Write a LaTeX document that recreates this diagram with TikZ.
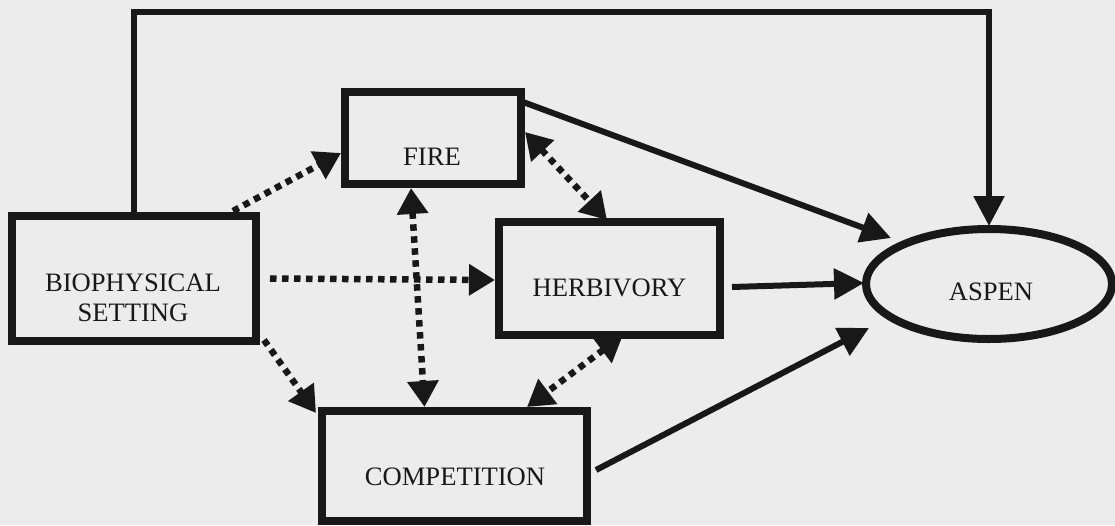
\documentclass[tikz,border=0pt]{standalone}
\usepackage{fontspec}
\setmainfont{Liberation Serif}
\usetikzlibrary{arrows.meta,shapes.geometric,calc}
\definecolor{paper}{RGB}{236,236,236}
\definecolor{ink}{RGB}{24,24,24}
\begin{document}
\begin{tikzpicture}[x=1pt,y=-1pt,
  boxnode/.style={draw=ink,line width=8pt,inner sep=0pt,outer sep=0pt},
  lbl/.style={font=\fontsize{26.6}{30}\selectfont,text=ink,inner sep=0pt,align=center},
  solidarrow/.style={draw=ink,line width=6pt,line join=miter,-{Triangle[length=30pt,width=30pt]}},
  dotone/.style={draw=ink,line width=6.5pt,dash pattern=on 6.5pt off 5.5pt,-{Triangle[length=26pt,width=30pt]}},
  dotboth/.style={draw=ink,line width=6.5pt,dash pattern=on 6.5pt off 5.5pt,{Triangle[length=26pt,width=30pt]}-{Triangle[length=26pt,width=30pt]}}]
\fill[paper] (0,0) rectangle (1115,525);
\useasboundingbox (0,0) rectangle (1115,525);
% boxes
\node[boxnode,minimum width=244pt,minimum height=125pt] (bio) at (134,278.5) {};
\node[boxnode,minimum width=176pt,minimum height=92pt] (fire) at (433,138) {};
\node[boxnode,minimum width=221pt,minimum height=113pt] (herb) at (609.5,278.5) {};
\node[boxnode,minimum width=265pt,minimum height=110pt] (comp) at (454.5,466) {};
\node[boxnode,ellipse,minimum width=246pt,minimum height=110pt] (aspen) at (989,284) {};
% texts
\node[lbl] (biot) at (133,297.5) {BIOPHYSICAL\\SETTING};
\node[lbl] (firet) at (432,157) {FIRE};
\node[lbl] (herbt) at (609.5,288) {HERBIVORY};
\node[lbl] (compt) at (455,477) {COMPETITION};
\node[lbl] (aspent) at (991,292) {ASPEN};
% coordinates
\coordinate (topc) at (989,12);
\coordinate (a1) at (891,238);
\coordinate (a2) at (864,283);
\coordinate (a3) at (869,328);
% solid connectors
\draw[solidarrow,line width=5.5pt,shorten >=3pt] (bio.north) |- (topc) -- (aspen.north);
\draw[solidarrow] ($(fire.north east)+(2,10)$) -- (a1);
\draw[solidarrow] ($(herb.east)+(12,8.5)$) -- (a2);
\draw[solidarrow] ($(comp.east)+(9,4)$) -- (a3);
% dotted connectors
\draw[dotone] ($(bio.north east)+(-23,-5)$) -- ($(fire.west)+(-4,15)$);
\draw[dotone] ($(bio.east)+(14,0)$) -- ($(herb.west)+(-4,1.5)$);
\draw[dotone] ($(bio.south east)+(8,-1)$) -- ($(comp.north west)+(-6,2)$);
\draw[dotboth] ($(fire.south)+(-22,4)$) -- ($(comp.north)+(-30,-4)$);
\draw[dotboth] ($(fire.east)+(4,-6)$) -- ($(herb.north)+(-2.5,-2)$);
\draw[dotboth] ($(herb.south)+(13.5,0)$) -- ($(comp.north)+(72.5,-4)$);
\end{tikzpicture}
\end{document}
